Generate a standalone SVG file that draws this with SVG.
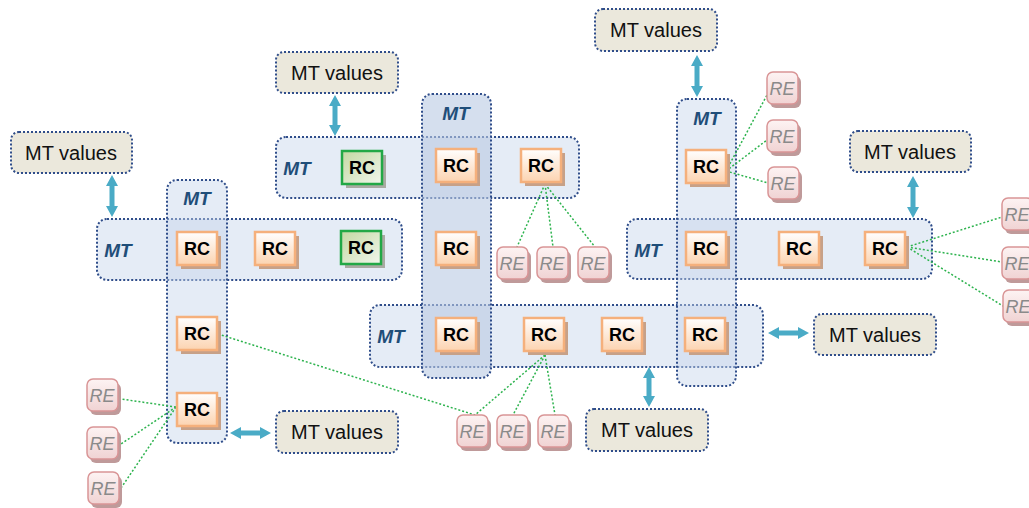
<svg xmlns="http://www.w3.org/2000/svg" width="1029" height="508" viewBox="0 0 1029 508">
<defs>
<linearGradient id="gRC" x1="0" y1="0" x2="0" y2="1"><stop offset="0" stop-color="#ffffff"/><stop offset="1" stop-color="#fcd3b0"/></linearGradient>
<linearGradient id="gGR" x1="0" y1="0" x2="1" y2="1"><stop offset="0" stop-color="#c3d8a2"/><stop offset="1" stop-color="#f1f6ec"/></linearGradient>
<linearGradient id="gRE" x1="0" y1="0" x2="0" y2="1"><stop offset="0" stop-color="#fdf3f3"/><stop offset="1" stop-color="#f0d3d3"/></linearGradient>
<style>
.mt{fill:#c6d5ea;fill-opacity:0.45;stroke:#2f4d8a;stroke-width:2;stroke-dasharray:2 2}
.mtd{fill:#b9cae3;fill-opacity:0.6;stroke:#2f4d8a;stroke-width:2;stroke-dasharray:2 2}
.mtl{font-family:"Liberation Sans",Arial,sans-serif;font-weight:bold;font-style:italic;font-size:19px;fill:#1f4e79;text-anchor:middle}
.rcs{fill:#c7a188}
.rc{fill:url(#gRC);stroke:#f5b07c;stroke-width:2.5}
.rcg{fill:url(#gGR);stroke:#22a846;stroke-width:2.5}
.rcgs{fill:#a9aaa2}
.rct{font-family:"Liberation Sans",Arial,sans-serif;font-weight:bold;font-size:18px;fill:#000;text-anchor:middle}
.res{fill:#bf9a9a}
.re{fill:url(#gRE);stroke:#d99596;stroke-width:1.5}
.ret{font-family:"Liberation Sans",Arial,sans-serif;font-style:italic;font-size:18px;fill:#8a8a8a;text-anchor:middle}
.mv{fill:#ebe8dc;stroke:#2f4d8a;stroke-width:2;stroke-dasharray:2 2}
.mvt{font-family:"Liberation Sans",Arial,sans-serif;font-size:20px;fill:#111;text-anchor:middle}
.ar{fill:#4aabc6}
.cn{stroke:#2db34e;stroke-width:1.5;stroke-dasharray:2 2;fill:none}
</style>
</defs>
<rect width="1029" height="508" fill="#ffffff"/>

<g id="containers">
<g id="mt-h-left"><rect class="mt" x="97" y="219" width="305" height="61" rx="10"/><text class="mtl" x="118" y="257">MT</text></g>
<g id="mt-v-left"><rect class="mt" x="167" y="180" width="60" height="263" rx="10"/><text class="mtl" x="197" y="205">MT</text></g>
<g id="mt-h-top"><rect class="mt" x="276" y="137" width="303" height="61" rx="10"/><text class="mtl" x="297" y="175">MT</text></g>
<g id="mt-h-bot"><rect class="mt" x="370" y="305" width="393" height="62" rx="10"/><text class="mtl" x="391" y="343">MT</text></g>
<g id="mt-v-mid"><rect class="mtd" x="422" y="94" width="69" height="284" rx="10"/><text class="mtl" x="456" y="120">MT</text></g>
<g id="mt-h-right"><rect class="mt" x="627" y="219" width="305" height="60" rx="10"/><text class="mtl" x="648" y="257">MT</text></g>
<g id="mt-v-right"><rect class="mt" x="677" y="99" width="59" height="287" rx="10"/><text class="mtl" x="707" y="125">MT</text></g>
</g>

<g id="connectors">
<line class="cn" x1="545" y1="184" x2="517" y2="247"/>
<line class="cn" x1="545" y1="184" x2="553" y2="247"/>
<line class="cn" x1="545" y1="184" x2="595" y2="247"/>
<line class="cn" x1="545" y1="355" x2="475" y2="415"/>
<line class="cn" x1="545" y1="355" x2="513" y2="415"/>
<line class="cn" x1="545" y1="355" x2="555" y2="415"/>
<line class="cn" x1="218" y1="334" x2="475" y2="415"/>
<line class="cn" x1="726" y1="171" x2="767" y2="95"/>
<line class="cn" x1="726" y1="171" x2="767" y2="140"/>
<line class="cn" x1="726" y1="171" x2="768" y2="183"/>
<line class="cn" x1="907" y1="247" x2="1002" y2="217"/>
<line class="cn" x1="907" y1="247" x2="1002" y2="262"/>
<line class="cn" x1="907" y1="247" x2="1003" y2="306"/>
<line class="cn" x1="176" y1="407" x2="121" y2="399"/>
<line class="cn" x1="176" y1="407" x2="121" y2="444"/>
<line class="cn" x1="176" y1="407" x2="121" y2="488"/>
<path class="ar" d="M112,175 L118,186 L114.5,186 L114.5,206 L118,206 L112,217 L106,206 L109.5,206 L109.5,186 L106,186 Z"/>
<path class="ar" d="M335,95 L341,106 L337.5,106 L337.5,125 L341,125 L335,136 L329,125 L332.5,125 L332.5,106 L329,106 Z"/>
<path class="ar" d="M697,55 L703,66 L699.5,66 L699.5,86 L703,86 L697,97 L691,86 L694.5,86 L694.5,66 L691,66 Z"/>
<path class="ar" d="M913,176 L919,187 L915.5,187 L915.5,207 L919,207 L913,218 L907,207 L910.5,207 L910.5,187 L907,187 Z"/>
<path class="ar" d="M649,367 L655,378 L651.5,378 L651.5,396 L655,396 L649,407 L643,396 L646.5,396 L646.5,378 L643,378 Z"/>
<path class="ar" d="M230,433 L241,427 L241,430.5 L260,430.5 L260,427 L271,433 L260,439 L260,435.5 L241,435.5 L241,439 Z"/>
<path class="ar" d="M768,333 L779,327 L779,330.5 L798,330.5 L798,327 L809,333 L798,339 L798,335.5 L779,335.5 L779,339 Z"/>
</g>

<g id="rc-nodes">
<g id="rc1"><rect class="rcs" x="181" y="236" width="40" height="33"/><rect class="rc" x="177" y="232" width="40" height="33"/><text class="rct" x="197" y="255">RC</text></g>
<g id="rc2"><rect class="rcs" x="259" y="236" width="40" height="33"/><rect class="rc" x="255" y="232" width="40" height="33"/><text class="rct" x="275" y="255">RC</text></g>
<g id="rc3"><rect class="rcgs" x="345" y="235" width="40" height="33"/><rect class="rcg" x="341" y="231" width="40" height="33"/><text class="rct" x="361" y="254">RC</text></g>
<g id="rc4"><rect class="rcs" x="181" y="321" width="40" height="33"/><rect class="rc" x="177" y="317" width="40" height="33"/><text class="rct" x="197" y="340">RC</text></g>
<g id="rc5"><rect class="rcs" x="181" y="397" width="40" height="33"/><rect class="rc" x="177" y="393" width="40" height="33"/><text class="rct" x="197" y="416">RC</text></g>
<g id="rc6"><rect class="rcgs" x="346" y="155" width="40" height="33"/><rect class="rcg" x="342" y="151" width="40" height="33"/><text class="rct" x="362" y="174">RC</text></g>
<g id="rc7"><rect class="rcs" x="440" y="153" width="40" height="33"/><rect class="rc" x="436" y="149" width="40" height="33"/><text class="rct" x="456" y="172">RC</text></g>
<g id="rc8"><rect class="rcs" x="440" y="236" width="40" height="33"/><rect class="rc" x="436" y="232" width="40" height="33"/><text class="rct" x="456" y="255">RC</text></g>
<g id="rc9"><rect class="rcs" x="440" y="322" width="40" height="33"/><rect class="rc" x="436" y="318" width="40" height="33"/><text class="rct" x="456" y="341">RC</text></g>
<g id="rc10"><rect class="rcs" x="525" y="153" width="40" height="33"/><rect class="rc" x="521" y="149" width="40" height="33"/><text class="rct" x="541" y="172">RC</text></g>
<g id="rc11"><rect class="rcs" x="528" y="322" width="40" height="33"/><rect class="rc" x="524" y="318" width="40" height="33"/><text class="rct" x="544" y="341">RC</text></g>
<g id="rc12"><rect class="rcs" x="606" y="322" width="40" height="33"/><rect class="rc" x="602" y="318" width="40" height="33"/><text class="rct" x="622" y="341">RC</text></g>
<g id="rc13"><rect class="rcs" x="689" y="322" width="40" height="33"/><rect class="rc" x="685" y="318" width="40" height="33"/><text class="rct" x="705" y="341">RC</text></g>
<g id="rc14"><rect class="rcs" x="690" y="154" width="40" height="33"/><rect class="rc" x="686" y="150" width="40" height="33"/><text class="rct" x="706" y="173">RC</text></g>
<g id="rc15"><rect class="rcs" x="690" y="236" width="40" height="33"/><rect class="rc" x="686" y="232" width="40" height="33"/><text class="rct" x="706" y="255">RC</text></g>
<g id="rc16"><rect class="rcs" x="783" y="236" width="40" height="33"/><rect class="rc" x="779" y="232" width="40" height="33"/><text class="rct" x="799" y="255">RC</text></g>
<g id="rc17"><rect class="rcs" x="869" y="236" width="40" height="33"/><rect class="rc" x="865" y="232" width="40" height="33"/><text class="rct" x="885" y="255">RC</text></g>
</g>

<g id="re-nodes">
<g id="re1"><rect class="res" x="500" y="251" width="31" height="32" rx="6"/><rect class="re" x="497" y="247" width="31" height="32" rx="6"/><text class="ret" x="512" y="270">RE</text></g>
<g id="re2"><rect class="res" x="540" y="251" width="31" height="32" rx="6"/><rect class="re" x="537" y="247" width="31" height="32" rx="6"/><text class="ret" x="552" y="270">RE</text></g>
<g id="re3"><rect class="res" x="581" y="251" width="31" height="32" rx="6"/><rect class="re" x="578" y="247" width="31" height="32" rx="6"/><text class="ret" x="593" y="270">RE</text></g>
<g id="re4"><rect class="res" x="460" y="419" width="31" height="32" rx="6"/><rect class="re" x="457" y="415" width="31" height="32" rx="6"/><text class="ret" x="472" y="438">RE</text></g>
<g id="re5"><rect class="res" x="500" y="419" width="31" height="32" rx="6"/><rect class="re" x="497" y="415" width="31" height="32" rx="6"/><text class="ret" x="512" y="438">RE</text></g>
<g id="re6"><rect class="res" x="541" y="419" width="31" height="32" rx="6"/><rect class="re" x="538" y="415" width="31" height="32" rx="6"/><text class="ret" x="553" y="438">RE</text></g>
<g id="re7"><rect class="res" x="770" y="76" width="31" height="32" rx="6"/><rect class="re" x="767" y="72" width="31" height="32" rx="6"/><text class="ret" x="782" y="95">RE</text></g>
<g id="re8"><rect class="res" x="770" y="124" width="31" height="32" rx="6"/><rect class="re" x="767" y="120" width="31" height="32" rx="6"/><text class="ret" x="782" y="143">RE</text></g>
<g id="re9"><rect class="res" x="771" y="171" width="31" height="32" rx="6"/><rect class="re" x="768" y="167" width="31" height="32" rx="6"/><text class="ret" x="783" y="190">RE</text></g>
<g id="re10"><rect class="res" x="1005" y="202" width="31" height="32" rx="6"/><rect class="re" x="1002" y="198" width="31" height="32" rx="6"/><text class="ret" x="1017" y="221">RE</text></g>
<g id="re11"><rect class="res" x="1005" y="251" width="31" height="32" rx="6"/><rect class="re" x="1002" y="247" width="31" height="32" rx="6"/><text class="ret" x="1017" y="270">RE</text></g>
<g id="re12"><rect class="res" x="1006" y="294" width="31" height="32" rx="6"/><rect class="re" x="1003" y="290" width="31" height="32" rx="6"/><text class="ret" x="1018" y="313">RE</text></g>
<g id="re13"><rect class="res" x="90" y="383" width="31" height="32" rx="6"/><rect class="re" x="87" y="379" width="31" height="32" rx="6"/><text class="ret" x="102" y="402">RE</text></g>
<g id="re14"><rect class="res" x="90" y="431" width="31" height="32" rx="6"/><rect class="re" x="87" y="427" width="31" height="32" rx="6"/><text class="ret" x="102" y="450">RE</text></g>
<g id="re15"><rect class="res" x="91" y="476" width="31" height="32" rx="6"/><rect class="re" x="88" y="472" width="31" height="32" rx="6"/><text class="ret" x="103" y="495">RE</text></g>
</g>

<g id="mt-values">
<g id="mv1"><rect class="mv" x="11" y="132" width="121" height="41" rx="8"/><text class="mvt" x="71" y="160">MT values</text></g>
<g id="mv2"><rect class="mv" x="276" y="52" width="122" height="41" rx="8"/><text class="mvt" x="337" y="80">MT values</text></g>
<g id="mv3"><rect class="mv" x="595" y="9" width="122" height="42" rx="8"/><text class="mvt" x="656" y="37">MT values</text></g>
<g id="mv4"><rect class="mv" x="850" y="131" width="121" height="41" rx="8"/><text class="mvt" x="910" y="159">MT values</text></g>
<g id="mv5"><rect class="mv" x="814" y="314" width="122" height="41" rx="8"/><text class="mvt" x="875" y="342">MT values</text></g>
<g id="mv6"><rect class="mv" x="276" y="411" width="122" height="42" rx="8"/><text class="mvt" x="337" y="439">MT values</text></g>
<g id="mv7"><rect class="mv" x="586" y="409" width="122" height="42" rx="8"/><text class="mvt" x="647" y="437">MT values</text></g>
</g>
</svg>
